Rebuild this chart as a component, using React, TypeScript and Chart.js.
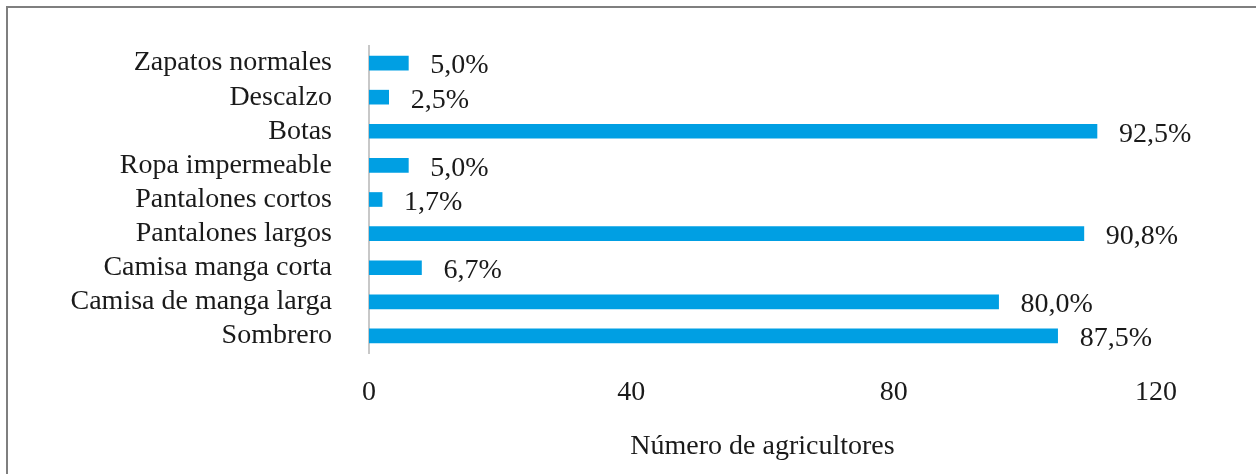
import React, { useEffect, useRef } from "react";
import { Chart, registerables } from "chart.js";

Chart.register(...registerables);

const categories = [
  "Zapatos normales",
  "Descalzo",
  "Botas",
  "Ropa impermeable",
  "Pantalones cortos",
  "Pantalones largos",
  "Camisa manga corta",
  "Camisa de manga larga",
  "Sombrero",
];

const farmerCounts = [6, 3, 111, 6, 2, 109, 8, 96, 105];

const percentLabels = ["5,0%", "2,5%", "92,5%", "5,0%", "1,7%", "90,8%", "6,7%", "80,0%", "87,5%"];

const xTicks = [0, 40, 80, 120];

const axisTitle = "Número de agricultores";

const FONT = "'Liberation Serif', 'Times New Roman', serif";

const dataLabelPlugin = {
  id: "dataLabels",
  afterDatasetsDraw(chart: any) {
    const ctx = chart.ctx;
    const meta = chart.getDatasetMeta(0);
    ctx.save();
    ctx.font = `28px ${FONT}`;
    ctx.fillStyle = "#1a1a1a";
    ctx.textAlign = "left";
    ctx.textBaseline = "middle";
    meta.data.forEach((bar: any, i: number) => {
      ctx.fillText(percentLabels[i], bar.x + 22, bar.y + 3);
    });
    ctx.restore();
  },
};

export default function App() {
  const canvasRef = useRef<HTMLCanvasElement | null>(null);

  useEffect(() => {
    if (!canvasRef.current) return;
    const chart = new Chart(canvasRef.current, {
      type: "bar",
      data: {
        labels: categories,
        datasets: [
          {
            data: farmerCounts,
            backgroundColor: "#009FE3",
            borderWidth: 0,
            barThickness: 14,
          },
        ],
      },
      options: {
        indexAxis: "y",
        responsive: false,
        animation: false,
        layout: { padding: { top: 46, right: 100, bottom: 0, left: 0 } },
        plugins: {
          legend: { display: false },
          tooltip: { enabled: false },
        },
        scales: {
          x: {
            min: 0,
            max: 120,
            afterBuildTicks: (scale: any) => {
              scale.ticks = xTicks.map((v) => ({ value: v }));
            },
            afterFit: (scale: any) => {
              scale.height = 121;
            },
            grid: { display: false, drawTicks: false },
            border: { display: false },
            ticks: {
              padding: 23,
              color: "#1a1a1a",
              font: { family: FONT, size: 28 },
            },
            title: {
              display: true,
              text: axisTitle,
              color: "#1a1a1a",
              font: { family: FONT, size: 28 },
              padding: { top: 0, bottom: 11 },
            },
          },
          y: {
            afterFit: (scale: any) => {
              scale.width = 369;
              scale.paddingTop = 0;
              scale.paddingBottom = 0;
            },
            grid: { display: false, drawTicks: false },
            border: { display: true, color: "#c8c8c8", width: 2 },
            ticks: {
              autoSkip: false,
              padding: 37,
              color: "#1a1a1a",
              font: { family: FONT, size: 28 },
            },
          },
        },
      },
      plugins: [dataLabelPlugin],
    });
    return () => chart.destroy();
  }, []);

  return (
    <div
      style={{
        position: "fixed",
        left: 0,
        top: 0,
        width: 1256,
        height: 474,
        overflow: "hidden",
        background: "#ffffff",
      }}
    >
      <canvas ref={canvasRef} width={1256} height={474} style={{ display: "block" }} />
      <div
        style={{
          position: "absolute",
          left: 6,
          top: 6,
          width: 1280,
          height: 500,
          borderLeft: "2px solid #7f7f7f",
          borderTop: "2px solid #7f7f7f",
          pointerEvents: "none",
        }}
      />
    </div>
  );
}
